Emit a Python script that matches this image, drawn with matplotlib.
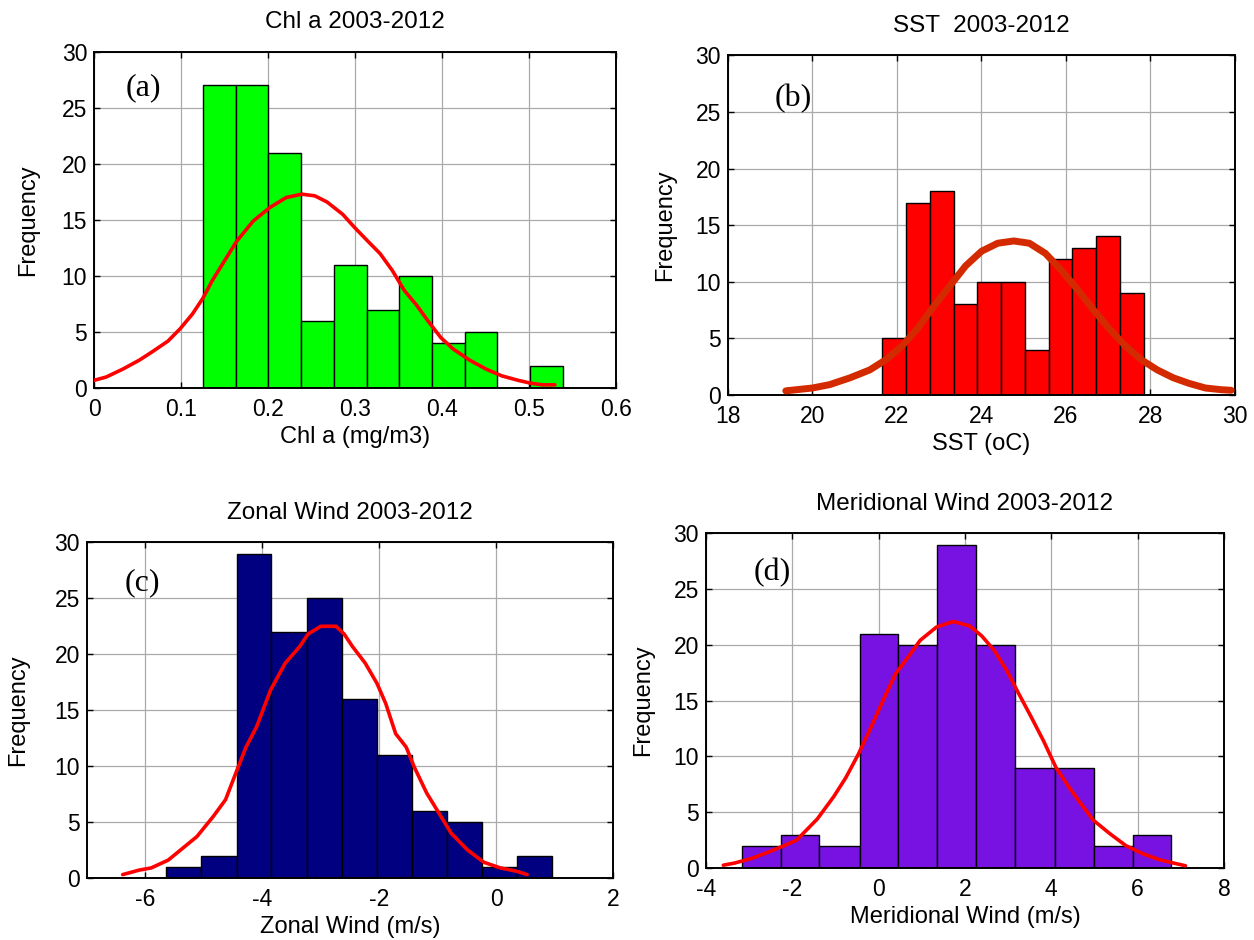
import matplotlib
matplotlib.use("Agg")
import matplotlib.pyplot as plt
import numpy as np

# ---------------- data ----------------
# (a) Chl a
chl_edges = [0.1254, 0.1630, 0.2006, 0.2382, 0.2758, 0.3134, 0.3510, 0.3886, 0.4262, 0.4638, 0.5014, 0.5390]
chl_counts = [27, 27, 21, 6, 11, 7, 10, 4, 5, 0, 2]
chl_fit_x = [0.000, 0.014, 0.033, 0.052, 0.066, 0.085, 0.099, 0.113, 0.125, 0.136, 0.148, 0.164,
             0.183, 0.202, 0.221, 0.239, 0.254, 0.268, 0.286, 0.300, 0.315, 0.329, 0.343, 0.357,
             0.371, 0.385, 0.399, 0.413, 0.432, 0.451, 0.469, 0.488, 0.502, 0.516, 0.530]
chl_fit_y = [0.7, 1.0, 1.7, 2.5, 3.2, 4.2, 5.3, 6.6, 8.0, 9.6, 11.1, 13.1,
             14.9, 16.1, 17.0, 17.3, 17.15, 16.6, 15.5, 14.3, 13.1, 12.0, 10.5, 8.7,
             7.4, 5.9, 4.5, 3.5, 2.5, 1.7, 1.1, 0.7, 0.45, 0.3, 0.3]

# (b) SST
sst_edges = [21.66, 22.22, 22.79, 23.35, 23.91, 24.47, 25.04, 25.60, 26.16, 26.72, 27.29, 27.85]
sst_counts = [5, 17, 18, 8, 10, 10, 4, 12, 13, 14, 9]
sst_fit_x = [19.37, 20.00, 20.41, 20.89, 21.36, 21.74, 22.12, 22.50, 22.87, 23.25, 23.63, 24.01,
             24.39, 24.77, 25.14, 25.52, 25.90, 26.28, 26.66, 27.04, 27.42, 27.79, 28.17, 28.55,
             28.93, 29.31, 29.69, 29.92]
sst_fit_y = [0.35, 0.6, 0.9, 1.5, 2.2, 3.1, 4.3, 5.9, 7.8, 9.6, 11.4, 12.7,
             13.4, 13.6, 13.4, 12.5, 11.0, 9.3, 7.5, 5.8, 4.3, 3.1, 2.2, 1.5,
             1.0, 0.6, 0.45, 0.4]

# (c) Zonal wind
u_edges = [-5.642, -5.046, -4.442, -3.846, -3.242, -2.646, -2.042, -1.446, -0.842, -0.246, 0.348, 0.954]
u_counts = [1, 2, 29, 22, 25, 16, 11, 6, 5, 1, 2]
u_fit_x = [-6.39, -6.11, -5.90, -5.61, -5.40, -5.12, -4.84, -4.63, -4.46, -4.28, -4.10, -3.86,
           -3.61, -3.36, -3.22, -3.00, -2.74, -2.60, -2.46, -2.24, -2.04, -1.89, -1.72, -1.54,
           -1.40, -1.19, -0.98, -0.77, -0.49, -0.21, 0.07, 0.35, 0.53]
u_fit_y = [0.3, 0.7, 0.9, 1.6, 2.5, 3.7, 5.5, 7.0, 9.3, 11.7, 13.5, 16.8,
           19.2, 20.7, 21.8, 22.5, 22.5, 21.8, 20.7, 19.2, 17.4, 15.6, 12.9, 11.7,
           9.9, 7.6, 5.8, 4.0, 2.5, 1.4, 0.9, 0.6, 0.3]

# (d) Meridional wind
v_edges = [-3.16, -2.27, -1.38, -0.43, 0.46, 1.36, 2.25, 3.15, 4.08, 4.99, 5.89, 6.78]
v_counts = [2, 3, 2, 21, 20, 29, 20, 9, 9, 2, 3]
v_fit_x = [-3.60, -3.33, -2.95, -2.57, -2.19, -1.90, -1.42, -1.04, -0.76, -0.47, -0.18, 0.10,
           0.39, 0.68, 0.96, 1.34, 1.73, 2.11, 2.39, 2.68, 2.97, 3.25, 3.54, 3.82,
           4.11, 4.40, 4.68, 4.97, 5.35, 5.73, 6.11, 6.50, 6.88, 7.11]
v_fit_y = [0.25, 0.45, 0.85, 1.4, 2.0, 2.5, 4.4, 6.4, 8.1, 10.2, 12.6, 15.0,
           17.4, 18.9, 20.4, 21.6, 22.1, 21.7, 20.8, 19.5, 17.7, 15.6, 13.5, 11.4,
           9.0, 7.3, 5.8, 4.3, 3.1, 2.0, 1.3, 0.75, 0.4, 0.2]

titles = ["Chl a 2003-2012", "SST  2003-2012", "Zonal Wind 2003-2012", "Meridional Wind 2003-2012"]
xlabels = ["Chl a (mg/m3)", "SST (oC)", "Zonal Wind (m/s)", "Meridional Wind (m/s)"]
panel_tags = ["(a)", "(b)", "(c)", "(d)"]
xticks_list = [[0, 0.1, 0.2, 0.3, 0.4, 0.5, 0.6],
               [18, 20, 22, 24, 26, 28, 30],
               [-6, -4, -2, 0, 2],
               [-4, -2, 0, 2, 4, 6, 8]]
xticklabels_list = [["0", "0.1", "0.2", "0.3", "0.4", "0.5", "0.6"],
                    ["18", "20", "22", "24", "26", "28", "30"],
                    ["-6", "-4", "-2", "0", "2"],
                    ["-4", "-2", "0", "2", "4", "6", "8"]]
xlims = [(0, 0.6), (18, 30), (-7, 2), (-4, 8)]
yticks = [0, 5, 10, 15, 20, 25, 30]

# ---------------- styling ----------------
plt.rcParams['font.family'] = ['Liberation Sans', 'DejaVu Sans']
bar_colors = ["#00FF00", "#FF0000", "#000080", "#7812E2"]
fit_colors = ["#FF0000", "#D42A00", "#FF0000", "#FF0000"]
fit_widths = [2.6, 5.0, 2.6, 2.6]
tag_pos = [(0.036, 26.8), (19.1, 26.2), (-6.35, 26.4), (-2.9, 26.5)]
axes_rects = [[0.075, 0.587, 0.416, 0.358],
              [0.5805, 0.580, 0.404, 0.361],
              [0.0694, 0.066, 0.4195, 0.357],
              [0.563, 0.0766, 0.413, 0.356]]
ylabel_pads = [16, 14, 18, 14]

fig = plt.figure(figsize=(12.54, 9.4), dpi=100)

datasets = [(chl_edges, chl_counts, chl_fit_x, chl_fit_y),
            (sst_edges, sst_counts, sst_fit_x, sst_fit_y),
            (u_edges, u_counts, u_fit_x, u_fit_y),
            (v_edges, v_counts, v_fit_x, v_fit_y)]

for i, (edges, counts, fx, fy) in enumerate(datasets):
    ax = fig.add_axes(axes_rects[i])
    e = np.asarray(edges)
    ax.bar(e[:-1], counts, width=np.diff(e), align='edge', color=bar_colors[i],
           edgecolor='black', linewidth=1.0, zorder=2)
    ax.plot(fx, fy, color=fit_colors[i], linewidth=fit_widths[i], zorder=3,
            solid_capstyle='round')
    ax.set_xlim(*xlims[i])
    ax.set_ylim(0, 30)
    ax.set_xticks(xticks_list[i])
    ax.set_xticklabels(xticklabels_list[i])
    ax.set_yticks(yticks)
    ax.grid(True, color='#aaaaaa', linewidth=0.9, zorder=0)
    ax.set_axisbelow(True)
    ax.tick_params(direction='in', length=4, width=1.0, top=True, right=True,
                   labelsize=16.5)
    ax.tick_params(axis='x', pad=7)
    ax.tick_params(axis='y', pad=5)
    for sp in ax.spines.values():
        sp.set_linewidth(1.4)
    ax.set_title(titles[i], fontsize=17.5, pad=17)
    ax.set_xlabel(xlabels[i], fontsize=17, labelpad=4)
    ax.set_ylabel("Frequency", fontsize=17, labelpad=ylabel_pads[i])
    ax.text(tag_pos[i][0], tag_pos[i][1], panel_tags[i], fontsize=23,
            family=['Liberation Serif', 'DejaVu Serif'], va='center', ha='left', zorder=4)

fig.savefig("out.png", dpi=100)
